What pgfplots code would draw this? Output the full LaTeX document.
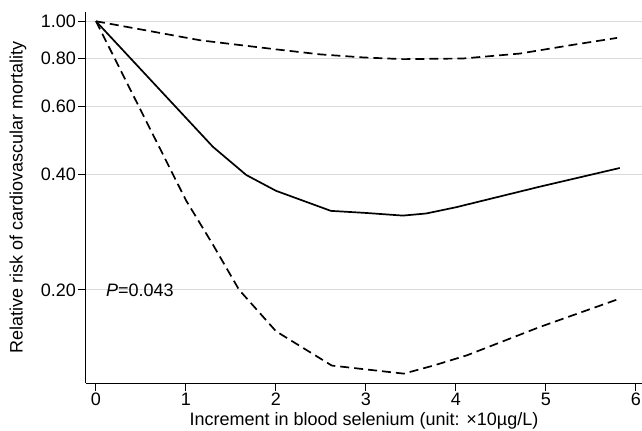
\documentclass[border=0pt]{standalone}
\usepackage{fontspec}
\setmainfont{Liberation Sans}
\usepackage{pgfplots}
\pgfplotsset{compat=1.18}
\definecolor{gridgray}{HTML}{D9D9D9}

\begin{document}
\begin{tikzpicture}[font=\fontsize{18bp}{21bp}\selectfont]
\begin{axis}[
  scale only axis,
  width=556bp, height=371bp,
  ymode=log,
  xmin=-0.111, xmax=6.067,
  ymin=0.1144, ymax=1.057,
  axis x line*=bottom, axis y line*=left,
  axis line style={line width=1bp, -},
  xtick={0,1,2,3,4,5,6},
  ytick={0.2,0.4,0.6,0.8,1.0},
  yticklabels={0.20,0.40,0.60,0.80,1.00},
  yminorticks=false,
  tick align=outside,
  major tick length=8bp,
  tick style={black, line width=1bp},
  ymajorgrids, grid style={gridgray, line width=1bp},
  /pgf/number format/assume math mode=true,
  yticklabel style={inner sep=2bp},
  xticklabel style={inner sep=2bp},
  xlabel={Increment in blood selenium (unit: ×10µg/L)},
  ylabel={Relative risk of cardiovascular mortality},
  xlabel style={at={(axis description cs:0.5,0)}, anchor=base, yshift=-42bp},
  ylabel style={at={(axis description cs:0,0.5)}, anchor=center, yshift=68bp},
]
% point estimate
\addplot[black, line width=1.7bp] coordinates {
  (0,1.000) (1.30,0.471) (1.67,0.398) (2.00,0.362) (2.61,0.321)
  (3.00,0.317) (3.41,0.312) (3.67,0.316) (4.00,0.328) (4.93,0.371) (5.82,0.415)
};
% upper confidence limit
\addplot[black, line width=1.7bp, dash pattern=on 9bp off 5bp] coordinates {
  (0,1.000) (1.16,0.892) (2.00,0.845) (2.49,0.820) (2.97,0.805) (3.41,0.797)
  (4.08,0.800) (4.71,0.824) (5.27,0.866) (5.79,0.905)
};
% lower confidence limit
\addplot[black, line width=1.7bp, dash pattern=on 9bp off 5bp] coordinates {
  (0,1.000) (1.00,0.342) (1.30,0.262) (1.59,0.200) (2.00,0.156) (2.62,0.127)
  (3.42,0.121) (3.75,0.127) (4.12,0.135) (4.93,0.160) (5.80,0.189)
};
\node[anchor=west, inner sep=0pt] at (axis cs:0.11,0.2) {\textit{P}=0.043};
\end{axis}
\pgfresetboundingbox
\useasboundingbox ([xshift=-86bp,yshift=-48bp]current axis.south west) rectangle ([yshift=12bp]current axis.north east);
\end{tikzpicture}
\end{document}
